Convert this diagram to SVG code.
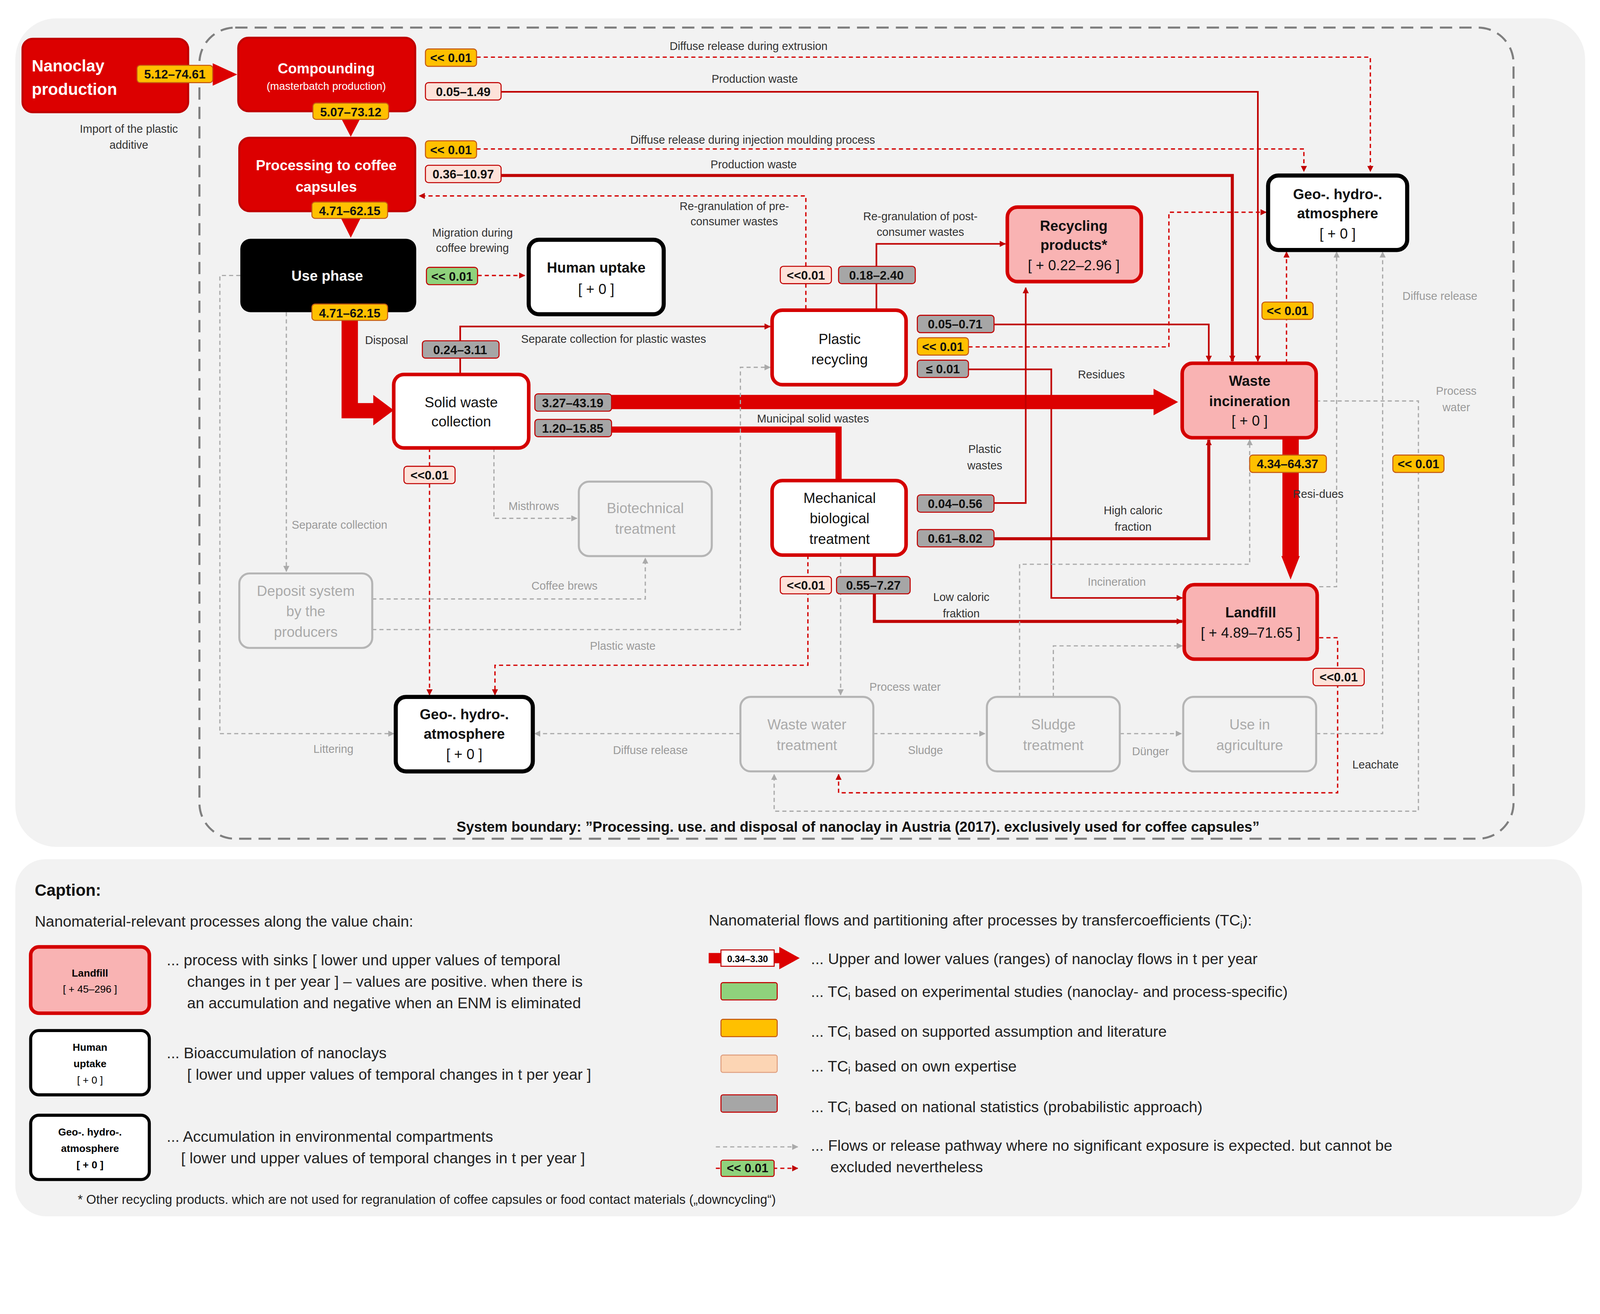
<svg xmlns="http://www.w3.org/2000/svg" width="4382" height="3365" viewBox="0 0 4382 3365">
<style>
text{font-family:"Liberation Sans",Arial,sans-serif}
.t{font-size:11px;fill:#333;text-anchor:middle}
.tg{font-size:11px;fill:#9a9a9a;text-anchor:middle}
.nw{font-size:14px;fill:#fff;font-weight:bold;text-anchor:middle}
.nb{font-size:14px;fill:#111;text-anchor:middle}
.nbb{font-size:14px;fill:#111;font-weight:bold;text-anchor:middle}
.ng{font-size:14px;fill:#aaa;text-anchor:middle}
.v{font-size:12px;font-weight:bold;fill:#111;text-anchor:middle}
.cap{font-size:15px;fill:#222}
.o{fill:#ffc000;stroke:#c55a11;stroke-width:1}
.p{fill:#fde2d9;stroke:#c00000;stroke-width:1}
.g{fill:#a6a6a6;stroke:#c00000;stroke-width:1}
.gr{fill:#8fd27c;stroke:#c00000;stroke-width:1}
.red{fill:#dc0000;stroke:#c00000;stroke-width:2}
.rw{fill:#fff;stroke:#d40000;stroke-width:3.5}
.rp{fill:#f9b3b3;stroke:#d40000;stroke-width:3.5}
.bw{fill:#fff;stroke:#000;stroke-width:4}
.gw{fill:#f2f2f2;stroke:#b5b5b5;stroke-width:2}
.l{fill:none;stroke:#c00000;stroke-width:1.6}
.lt{fill:none;stroke:#c00000;stroke-width:3}
.ld{fill:none;stroke:#d40000;stroke-width:1.3;stroke-dasharray:4 3}
.lg{fill:none;stroke:#aaa;stroke-width:1.2;stroke-dasharray:4 3}
</style>
<defs>
<marker id="ar" viewBox="0 0 10 10" refX="9" refY="5" markerWidth="6" markerHeight="6" orient="auto" markerUnits="userSpaceOnUse"><path d="M0 0L10 5L0 10Z" fill="#c00000"/></marker>
<marker id="ag" viewBox="0 0 10 10" refX="9" refY="5" markerWidth="6" markerHeight="6" orient="auto" markerUnits="userSpaceOnUse"><path d="M0 0L10 5L0 10Z" fill="#aaa"/></marker>
</defs>
<rect width="4382" height="3365" fill="#fff"/>
<g transform="scale(2.618 2.613)">
<rect x="15" y="18" width="1535" height="812" rx="40" fill="#f2f2f2"/>
<rect x="195" y="27" width="1285" height="795" rx="35" fill="none" stroke="#7f7f7f" stroke-width="2" stroke-dasharray="12 7"/>
<rect x="15" y="842" width="1532" height="350" rx="30" fill="#f2f2f2"/>

<g id="connectors">
<path class="ld" d="M466 56H1340V168" marker-end="url(#ar)"/>
<path class="l" d="M490 90H1230V354" marker-end="url(#ar)"/>
<path class="ld" d="M466 146H1275V168" marker-end="url(#ar)"/>
<path class="lt" d="M490 172H1205V354" marker-end="url(#ar)"/>
<path class="ld" d="M788 303V192H410" marker-end="url(#ar)"/>
<path class="ld" d="M467 270H513" marker-end="url(#ar)"/>
<path class="l" d="M857 304V239H983" marker-end="url(#ar)"/>
<path class="l" d="M450 367V320H753" marker-end="url(#ar)"/>
<path class="l" d="M972 318H1182V354" marker-end="url(#ar)"/>
<path class="ld" d="M947 340H1143V208H1238" marker-end="url(#ar)"/>
<path class="l" d="M947 362H1028V586H1156" marker-end="url(#ar)"/>
<path d="M598 387H1128V381L1152 394L1128 407V401H598Z" fill="#dc0000"/>
<path d="M598 418H823V471H817V424H598Z" fill="#dc0000"/>
<path d="M334 306H350V395H365V387L385 402L365 417V410H334Z" fill="#dc0000"/>
<path class="ld" d="M420 439V457M420 474V681" marker-end="url(#ar)"/>
<path class="l" d="M972 493H1003V282" marker-end="url(#ar)"/>
<path class="lt" d="M972 528H1182V431" marker-end="url(#ar)"/>
<path class="lt" d="M855 544V609H1156" marker-end="url(#ar)"/>
<path class="ld" d="M790 544V652H484V681" marker-end="url(#ar)"/>
<path d="M1254 429H1270V545H1271L1262 568L1253 545H1254Z" fill="#dc0000"/>
<path class="ld" d="M1258 356V247" marker-end="url(#ar)"/>
<path class="ld" d="M1290 625H1308V777H820V759" marker-end="url(#ar)"/>
<path class="lg" d="M1287 719H1352V247" marker-end="url(#ag)"/>
<path class="lg" d="M1290 575H1307V247" marker-end="url(#ag)"/>
<path class="lg" d="M1287 393H1387V795H757V759" marker-end="url(#ag)"/>
<path class="lg" d="M997 683V553H1222V431" marker-end="url(#ag)"/>
<path class="lg" d="M1030 683V633H1156" marker-end="url(#ag)"/>
<path class="lg" d="M235 270H215V719H385" marker-end="url(#ag)"/>
<path class="lg" d="M280 306V560" marker-end="url(#ag)"/>
<path class="lg" d="M483 439V508H564" marker-end="url(#ag)"/>
<path class="lg" d="M364 587H631V547" marker-end="url(#ag)"/>
<path class="lg" d="M364 617H724V360H753" marker-end="url(#ag)"/>
<path class="lg" d="M822 544V681" marker-end="url(#ag)"/>
<path class="lg" d="M724 719H523" marker-end="url(#ag)"/>
<path class="lg" d="M854 719H963" marker-end="url(#ag)"/>
<path class="lg" d="M1095 719H1155" marker-end="url(#ag)"/>
<path d="M184 72H208V62L232 73L208 84V74Z" fill="#dc0000"/>
<path d="M330 109H356L343 134Z" fill="#dc0000"/>
<path d="M330 207H356L343 233Z" fill="#dc0000"/>
</g>

<g id="texts">
<text class="t" x="126" y="130">Import of the plastic</text><text class="t" x="126" y="146">additive</text>
<text class="t" x="732" y="49">Diffuse release during extrusion</text>
<text class="t" x="738" y="81">Production waste</text>
<text class="t" x="736" y="141">Diffuse release during injection moulding process</text>
<text class="t" x="737" y="165">Production waste</text>
<text class="t" x="718" y="206">Re-granulation of pre-</text><text class="t" x="718" y="221">consumer wastes</text>
<text class="t" x="900" y="216">Re-granulation of post-</text><text class="t" x="900" y="231">consumer wastes</text>
<text class="t" x="462" y="232">Migration during</text><text class="t" x="462" y="247">coffee brewing</text>
<text class="t" x="378" y="337">Disposal</text>
<text class="t" x="600" y="336">Separate collection for plastic wastes</text>
<text class="t" x="1077" y="371">Residues</text>
<text class="t" x="795" y="414">Municipal solid wastes</text>
<text class="t" x="963" y="444">Plastic</text><text class="t" x="963" y="460">wastes</text>
<text class="t" x="1108" y="504">High caloric</text><text class="t" x="1108" y="520">fraction</text>
<text class="t" x="940" y="589">Low caloric</text><text class="t" x="940" y="605">fraktion</text>
<text class="t" x="1289" y="488">Resi-dues</text>
<text class="t" x="1345" y="753">Leachate</text>
<text class="tg" x="1408" y="294">Diffuse release</text>
<text class="tg" x="1424" y="387">Process</text><text class="tg" x="1424" y="403">water</text>
<text class="tg" x="1092" y="574">Incineration</text>
<text class="tg" x="332" y="518">Separate collection</text>
<text class="tg" x="522" y="500">Misthrows</text>
<text class="tg" x="552" y="578">Coffee brews</text>
<text class="tg" x="609" y="637">Plastic waste</text>
<text class="tg" x="885" y="677">Process water</text>
<text class="tg" x="326" y="738">Littering</text>
<text class="tg" x="636" y="739">Diffuse release</text>
<text class="tg" x="905" y="739">Sludge</text>
<text class="tg" x="1125" y="740">Dünger</text>
<text x="839" y="815" style="font-size:14px;font-weight:bold;fill:#111;text-anchor:middle">System boundary: ”Processing. use. and disposal of nanoclay in Austria (2017). exclusively used for coffee capsules”</text>
</g>

<g id="n-nanoclay"><rect class="red" x="22" y="38" width="162" height="72" rx="10"/><text x="31" y="70" style="font-size:16px;font-weight:bold;fill:#fff">Nanoclay</text><text x="31" y="93" style="font-size:16px;font-weight:bold;fill:#fff">production</text></g>
<g id="n-compounding"><rect class="red" x="233" y="37" width="173" height="72" rx="10"/><text class="nw" x="319" y="72">Compounding</text><text x="319" y="88" style="font-size:10.5px;fill:#fff;text-anchor:middle">(masterbatch production)</text></g>
<g id="n-processing"><rect class="red" x="234" y="135" width="172" height="72" rx="10"/><text class="nw" x="319" y="167">Processing to coffee</text><text class="nw" x="319" y="188">capsules</text></g>
<g id="n-use"><rect x="235" y="234" width="172" height="72" rx="10" fill="#000"/><text class="nw" x="320" y="275">Use phase</text></g>
<g id="n-human"><rect class="bw" x="517" y="235" width="132" height="73" rx="10"/><text class="nbb" x="583" y="267">Human uptake</text><text class="nb" x="583" y="288">[ + 0 ]</text></g>
<g id="n-swc"><rect class="rw" x="385" y="367" width="132" height="72" rx="10"/><text class="nb" x="451" y="399">Solid waste</text><text class="nb" x="451" y="418">collection</text></g>
<g id="n-plastic"><rect class="rw" x="755" y="304" width="131" height="73" rx="10"/><text class="nb" x="821" y="337">Plastic</text><text class="nb" x="821" y="357">recycling</text></g>
<g id="n-recprod"><rect class="rp" x="985" y="203" width="131" height="73" rx="10"/><text class="nbb" x="1050" y="226">Recycling</text><text class="nbb" x="1050" y="245">products*</text><text class="nb" x="1050" y="265">[ + 0.22–2.96 ]</text></g>
<g id="n-geo-top"><rect class="bw" x="1240" y="172" width="136" height="73" rx="10"/><text class="nbb" x="1308" y="195">Geo-. hydro-.</text><text class="nbb" x="1308" y="214">atmosphere</text><text class="nb" x="1308" y="234">[ + 0 ]</text></g>
<g id="n-incin"><rect class="rp" x="1156" y="356" width="131" height="73" rx="10"/><text class="nbb" x="1222" y="378">Waste</text><text class="nbb" x="1222" y="398">incineration</text><text class="nb" x="1222" y="417">[ + 0 ]</text></g>
<g id="n-mbt"><rect class="rw" x="755" y="471" width="131" height="73" rx="10"/><text class="nb" x="821" y="493">Mechanical</text><text class="nb" x="821" y="513">biological</text><text class="nb" x="821" y="533">treatment</text></g>
<g id="n-landfill"><rect class="rp" x="1158" y="573" width="130" height="73" rx="10"/><text class="nbb" x="1223" y="605">Landfill</text><text class="nb" x="1223" y="625">[ + 4.89–71.65 ]</text></g>
<g id="n-biotech"><rect class="gw" x="566" y="472" width="130" height="73" rx="10"/><text class="ng" x="631" y="503">Biotechnical</text><text class="ng" x="631" y="523">treatment</text></g>
<g id="n-deposit"><rect class="gw" x="234" y="562" width="130" height="73" rx="10"/><text class="ng" x="299" y="584">Deposit system</text><text class="ng" x="299" y="604">by the</text><text class="ng" x="299" y="624">producers</text></g>
<g id="n-geo-bot"><rect class="bw" x="387" y="683" width="134" height="73" rx="10"/><text class="nbb" x="454" y="705">Geo-. hydro-.</text><text class="nbb" x="454" y="724">atmosphere</text><text class="nb" x="454" y="744">[ + 0 ]</text></g>
<g id="n-wwt"><rect class="gw" x="724" y="683" width="130" height="73" rx="10"/><text class="ng" x="789" y="715">Waste water</text><text class="ng" x="789" y="735">treatment</text></g>
<g id="n-sludge"><rect class="gw" x="965" y="683" width="130" height="73" rx="10"/><text class="ng" x="1030" y="715">Sludge</text><text class="ng" x="1030" y="735">treatment</text></g>
<g id="n-agri"><rect class="gw" x="1157" y="683" width="130" height="73" rx="10"/><text class="ng" x="1222" y="715">Use in</text><text class="ng" x="1222" y="735">agriculture</text></g>

<g id="flow-labels">
<rect class="o" x="134" y="64" width="74" height="17" rx="3"/><text class="v" x="171" y="77">5.12–74.61</text>
<rect class="o" x="306" y="101" width="74" height="16" rx="3"/><text class="v" x="343" y="114">5.07–73.12</text>
<rect class="o" x="305" y="198" width="74" height="16" rx="3"/><text class="v" x="342" y="211">4.71–62.15</text>
<rect class="o" x="305" y="298" width="74" height="16" rx="3"/><text class="v" x="342" y="311">4.71–62.15</text>
<rect class="o" x="416" y="48" width="50" height="17" rx="3"/><text class="v" x="441" y="61">&lt;&lt; 0.01</text>
<rect class="p" x="416" y="81" width="74" height="17" rx="3"/><text class="v" x="453" y="94">0.05–1.49</text>
<rect class="o" x="416" y="138" width="50" height="17" rx="3"/><text class="v" x="441" y="151">&lt;&lt; 0.01</text>
<rect class="p" x="416" y="162" width="74" height="17" rx="3"/><text class="v" x="453" y="175">0.36–10.97</text>
<rect class="gr" x="417" y="262" width="50" height="17" rx="3"/><text class="v" x="442" y="275">&lt;&lt; 0.01</text>
<rect class="g" x="413" y="334" width="75" height="17" rx="3"/><text class="v" x="450" y="347">0.24–3.11</text>
<rect class="p" x="763" y="261" width="50" height="17" rx="3"/><text class="v" x="788" y="274">&lt;&lt;0.01</text>
<rect class="g" x="820" y="261" width="75" height="17" rx="3"/><text class="v" x="857" y="274">0.18–2.40</text>
<rect class="g" x="897" y="309" width="75" height="17" rx="3"/><text class="v" x="934" y="322">0.05–0.71</text>
<rect class="o" x="897" y="331" width="50" height="17" rx="3"/><text class="v" x="922" y="344">&lt;&lt; 0.01</text>
<rect class="g" x="897" y="353" width="50" height="17" rx="3"/><text class="v" x="922" y="366">≤ 0.01</text>
<rect class="g" x="523" y="386" width="75" height="17" rx="3"/><text class="v" x="560" y="399">3.27–43.19</text>
<rect class="g" x="523" y="411" width="75" height="17" rx="3"/><text class="v" x="560" y="424">1.20–15.85</text>
<rect class="p" x="395" y="457" width="50" height="17" rx="3"/><text class="v" x="420" y="470">&lt;&lt;0.01</text>
<rect class="g" x="897" y="485" width="75" height="17" rx="3"/><text class="v" x="934" y="498">0.04–0.56</text>
<rect class="g" x="897" y="519" width="75" height="17" rx="3"/><text class="v" x="934" y="532">0.61–8.02</text>
<rect class="p" x="763" y="565" width="50" height="17" rx="3"/><text class="v" x="788" y="578">&lt;&lt;0.01</text>
<rect class="g" x="818" y="565" width="72" height="17" rx="3"/><text class="v" x="854" y="578">0.55–7.27</text>
<rect class="o" x="1222" y="446" width="75" height="17" rx="3"/><text class="v" x="1259" y="459">4.34–64.37</text>
<rect class="o" x="1234" y="296" width="50" height="17" rx="3"/><text class="v" x="1259" y="309">&lt;&lt; 0.01</text>
<rect class="o" x="1362" y="446" width="50" height="17" rx="3"/><text class="v" x="1387" y="459">&lt;&lt; 0.01</text>
<rect class="p" x="1284" y="655" width="50" height="17" rx="3"/><text class="v" x="1309" y="668">&lt;&lt;0.01</text>
</g>

<g id="caption">
<text x="34" y="878" style="font-size:16px;font-weight:bold;fill:#111">Caption:</text>
<text class="cap" x="34" y="908">Nanomaterial-relevant processes along the value chain:</text>
<rect class="rp" x="30" y="928" width="116" height="65" rx="8"/><text x="88" y="957" style="font-size:10px;font-weight:bold;text-anchor:middle">Landfill</text><text x="88" y="973" style="font-size:10px;text-anchor:middle">[ + 45–296 ]</text>
<text class="cap" x="163" y="946">... process with sinks [ lower und upper values of temporal</text>
<text class="cap" x="183" y="967">changes in t per year ] – values are positive. when there is</text>
<text class="cap" x="183" y="988">an accumulation and negative when an ENM is eliminated</text>
<rect class="bw" x="30" y="1010" width="116" height="63" rx="8" style="stroke-width:3"/><text x="88" y="1030" style="font-size:10px;font-weight:bold;text-anchor:middle">Human</text><text x="88" y="1046" style="font-size:10px;font-weight:bold;text-anchor:middle">uptake</text><text x="88" y="1062" style="font-size:10px;text-anchor:middle">[ + 0 ]</text>
<text class="cap" x="163" y="1037">... Bioaccumulation of nanoclays</text>
<text class="cap" x="183" y="1058">[ lower und upper values of temporal changes in t per year ]</text>
<rect class="bw" x="30" y="1093" width="116" height="63" rx="8" style="stroke-width:3"/><text x="88" y="1113" style="font-size:10px;font-weight:bold;text-anchor:middle">Geo-. hydro-.</text><text x="88" y="1129" style="font-size:10px;font-weight:bold;text-anchor:middle">atmosphere</text><text x="88" y="1145" style="font-size:10px;font-weight:bold;text-anchor:middle">[ + 0 ]</text>
<text class="cap" x="163" y="1119">... Accumulation in environmental compartments</text>
<text class="cap" x="177" y="1140">[ lower und upper values of temporal changes in t per year ]</text>
<text class="cap" x="693" y="907">Nanomaterial flows and partitioning after processes by transfercoefficients (TC<tspan style="font-size:10px" dy="3">i</tspan><tspan dy="-3">):</tspan></text>
<path d="M693 934H762V928L782 939L762 950V944H693Z" fill="#dc0000"/>
<rect x="705" y="931" width="52" height="16" fill="#fff" stroke="#c00000"/><text x="731" y="943" style="font-size:9px;font-weight:bold;text-anchor:middle">0.34–3.30</text>
<text class="cap" x="793" y="945">... Upper and lower values (ranges) of nanoclay flows in t per year</text>
<rect class="gr" x="705" y="963" width="55" height="17" rx="2"/>
<text class="cap" x="793" y="977">... TC<tspan style="font-size:10px" dy="3">i</tspan><tspan dy="-3"> based on experimental studies (nanoclay- and process-specific)</tspan></text>
<rect class="o" x="705" y="999" width="55" height="17" rx="2"/>
<text class="cap" x="793" y="1016">... TC<tspan style="font-size:10px" dy="3">i</tspan><tspan dy="-3"> based on supported assumption and literature</tspan></text>
<rect x="705" y="1034" width="55" height="17" rx="2" fill="#fcd5b4" stroke="#e0a080"/>
<text class="cap" x="793" y="1050">... TC<tspan style="font-size:10px" dy="3">i</tspan><tspan dy="-3"> based on own expertise</tspan></text>
<rect class="g" x="705" y="1073" width="55" height="17" rx="2"/>
<text class="cap" x="793" y="1090">... TC<tspan style="font-size:10px" dy="3">i</tspan><tspan dy="-3"> based on national statistics (probabilistic approach)</tspan></text>
<path class="lg" d="M700 1124H780" marker-end="url(#ag)"/>
<path class="ld" d="M700 1145H780" marker-end="url(#ar)"/>
<rect class="gr" x="705" y="1137" width="52" height="16" rx="2"/><text class="v" x="731" y="1149">&lt;&lt; 0.01</text>
<text class="cap" x="793" y="1128">... Flows or release pathway where no significant exposure is expected. but cannot be</text>
<text class="cap" x="812" y="1149">excluded nevertheless</text>
<text x="76" y="1180" style="font-size:12.5px;fill:#222">* Other recycling products. which are not used for regranulation of coffee capsules or food contact materials („downcycling“)</text>
</g>
</g>
</svg>
